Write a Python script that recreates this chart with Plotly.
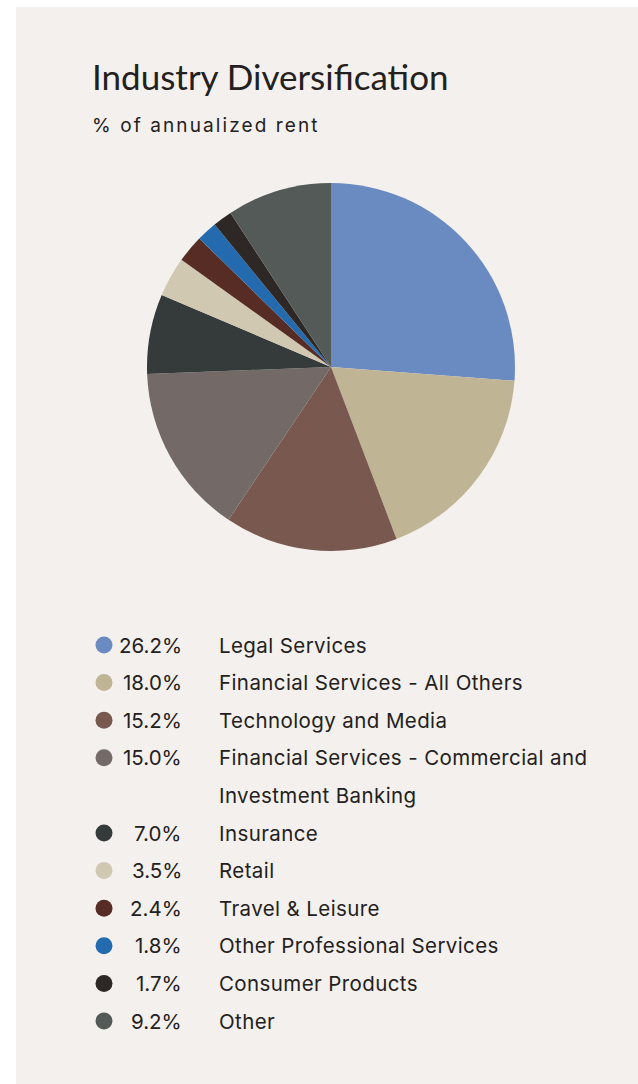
import plotly.graph_objects as go

# ---- data ----
categories = [
    "Legal Services",
    "Financial Services - All Others",
    "Technology and Media",
    "Financial Services - Commercial and Investment Banking",
    "Insurance",
    "Retail",
    "Travel & Leisure",
    "Other Professional Services",
    "Consumer Products",
    "Other",
]
values = [26.2, 18.0, 15.2, 15.0, 7.0, 3.5, 2.4, 1.8, 1.7, 9.2]
colors = [
    "#6A8BC2", "#BFB594", "#78584F", "#736A67", "#343B3A",
    "#D1C8B1", "#562C24", "#236BAE", "#2D2826", "#545A57",
]

title_text = "Industry Diversification"
subtitle_text = "% of annualized rent"

W, H = 638, 1084
PANEL = "#F4F0ED"
TXT = "#232120"

fig = go.Figure()

# Pie
fig.add_trace(go.Pie(
    labels=categories,
    values=values,
    marker=dict(colors=colors, line=dict(width=0)),
    sort=False,
    direction="clockwise",
    rotation=0,
    textinfo="none",
    hoverinfo="label+percent",
    showlegend=False,
    domain=dict(x=[147 / W, 515 / W], y=[1 - 551 / H, 1 - 183 / H]),
))

# ---- custom legend ----
def wrap(text, maxlen=36):
    words, lines, cur = text.split(), [], ""
    for w in words:
        t = (cur + " " + w).strip()
        if len(t) > maxlen and cur:
            lines.append(cur)
            cur = w
        else:
            cur = t
    lines.append(cur)
    return lines

def spaced(s, px):
    return f'<span style="letter-spacing:{px}px">{s}</span>'

row0, step = 645, 37.6
slot = 0
mx, my = [], []
annotations = []
LEG_FONT = dict(family="Inter", size=20.5, color=TXT)
for cat, val, col in zip(categories, values, colors):
    y = row0 + step * slot
    mx.append(104)
    my.append(y)
    annotations.append(dict(x=184, y=y, xref="x", yref="y", text=f"{val:.1f}%",
                            showarrow=False, xanchor="right", yanchor="middle",
                            font=LEG_FONT))
    lines = wrap(cat)
    for i, ln in enumerate(lines):
        annotations.append(dict(x=217, y=y + step * i, xref="x", yref="y", text=spaced(ln, 0.4),
                                showarrow=False, xanchor="left", yanchor="middle",
                                font=LEG_FONT))
    slot += len(lines)

fig.add_trace(go.Scatter(
    x=mx, y=my, mode="markers",
    marker=dict(size=17, color=colors, line=dict(width=0)),
    hoverinfo="skip", showlegend=False,
))

annotations.append(dict(x=90, y=76, xref="x", yref="y", text=title_text, showarrow=False,
                        xanchor="left", yanchor="middle",
                        font=dict(family="Lato", size=35, color=TXT)))
annotations.append(dict(x=90, y=125, xref="x", yref="y",
                        text=spaced(subtitle_text, 2.1),
                        showarrow=False, xanchor="left", yanchor="middle",
                        font=dict(family="Inter", size=19, color=TXT)))

fig.update_layout(
    width=W, height=H,
    margin=dict(l=0, r=0, t=0, b=0),
    paper_bgcolor="white",
    plot_bgcolor="rgba(0,0,0,0)",
    xaxis=dict(range=[0, W], visible=False, fixedrange=True, domain=[0, 1]),
    yaxis=dict(range=[H, 0], visible=False, fixedrange=True, domain=[0, 1]),
    shapes=[dict(type="rect", xref="x", yref="y", x0=16, y0=7, x1=W, y1=H,
                 fillcolor=PANEL, line=dict(width=0), layer="below")],
    annotations=annotations,
)

fig.write_html(
    "out.html",
    config={"displayModeBar": False},
    post_script="document.body.style.margin='0';document.body.style.overflow='hidden';",
)
